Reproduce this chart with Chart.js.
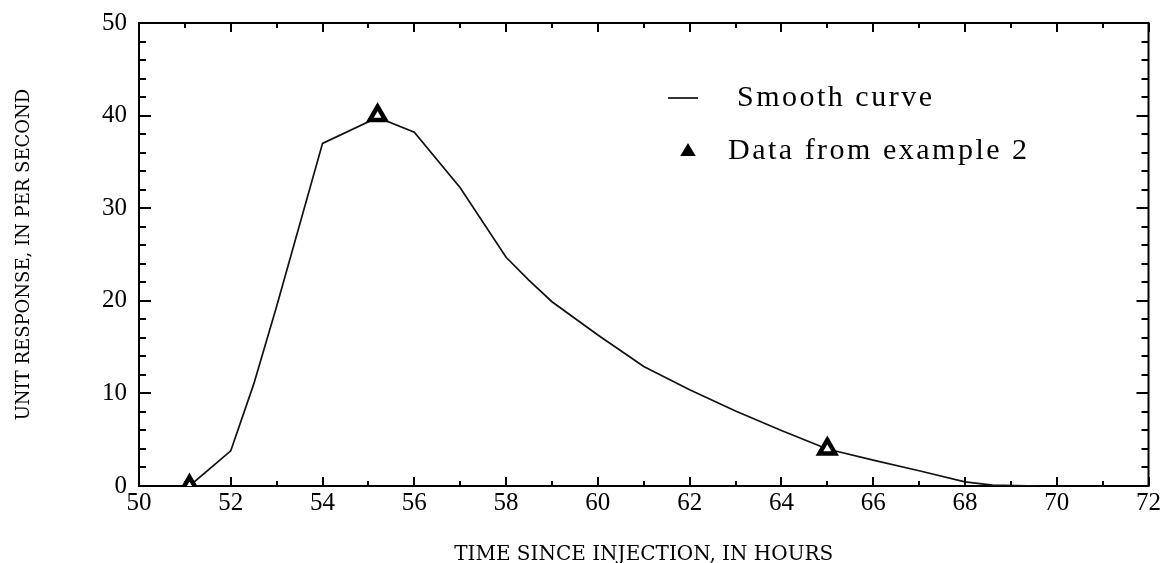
<!DOCTYPE html>
<html>
<head>
<meta charset="utf-8">
<script src="https://cdn.jsdelivr.net/npm/chart.js@4/dist/chart.umd.min.js"></script>
<style>
  html, body { margin: 0; padding: 0; background: #fff; }
  #wrap { width: 1162px; height: 563px; }
</style>
</head>
<body>
<div id="wrap"><canvas id="chart" width="1162" height="563"></canvas></div>
<script>
// ─── DATA ────────────────────────────────────────────────────
const curveHours    = [51.1, 52, 52.5, 53, 54, 55.2, 56, 57, 58, 58.5, 59, 60, 61, 62, 63, 64, 65, 66, 67, 68, 68.6, 69.6];
const curveResponse = [0, 3.8, 11, 19.4, 37, 39.8, 38.2, 32.2, 24.7, 22.2, 19.9, 16.3, 12.9, 10.4, 8.1, 6.0, 4.0, 2.8, 1.65, 0.45, 0.1, 0];

const exampleHours    = [51.1, 55.2, 65];
const exampleResponse = [0, 40, 4];

const xTickValues = [50, 52, 54, 56, 58, 60, 62, 64, 66, 68, 70, 72];
const yTickValues = [0, 10, 20, 30, 40, 50];
const xMinorStep = 1;
const yMinorStep = 2;

const seriesLabels = ['Smooth curve', 'Data from example 2'];

// ─── PLUGINS ─────────────────────────────────────────────────
// box round the plot with inward ticks on all four sides
const framePlugin = {
    id: 'frame',
    beforeDatasetsDraw(chart) {
        const { ctx, chartArea: a, scales: { x, y } } = chart;
        ctx.save();
        ctx.strokeStyle = '#000';
        ctx.lineWidth = 2;
        ctx.strokeRect(a.left, a.top, a.right - a.left, a.bottom - a.top);

        ctx.beginPath();
        for (let v = x.min; v <= x.max + 1e-9; v += xMinorStep) {
            const px = Math.round(x.getPixelForValue(v));
            const len = xTickValues.includes(v) ? 9 : 5;
            ctx.moveTo(px, a.bottom); ctx.lineTo(px, a.bottom - len);
            ctx.moveTo(px, a.top);    ctx.lineTo(px, a.top + len);
        }
        for (let v = y.min; v <= y.max + 1e-9; v += yMinorStep) {
            const py = Math.round(y.getPixelForValue(v));
            const len = yTickValues.includes(v) ? 12 : 7;
            ctx.moveTo(a.left, py);  ctx.lineTo(a.left + len, py);
            ctx.moveTo(a.right, py); ctx.lineTo(a.right - len, py);
        }
        ctx.stroke();
        ctx.restore();
    }
};

// legend sits inside the plot, upper right
const legendPlugin = {
    id: 'innerLegend',
    afterDraw(chart) {
        const { ctx } = chart;
        ctx.save();
        ctx.fillStyle = '#000';
        ctx.strokeStyle = '#000';
        ctx.font = '30px "Liberation Serif"';
        ctx.letterSpacing = '2.5px';
        ctx.textBaseline = 'middle';

        ctx.lineWidth = 1.6;
        ctx.beginPath();
        ctx.moveTo(668, 98); ctx.lineTo(698, 98);
        ctx.stroke();
        ctx.fillText(seriesLabels[0], 737, 98);

        ctx.beginPath();
        ctx.moveTo(688, 145); ctx.lineTo(694, 155); ctx.lineTo(682, 155);
        ctx.closePath();
        ctx.lineWidth = 2;
        ctx.fill(); ctx.stroke();
        ctx.fillText(seriesLabels[1], 728, 151);
        ctx.restore();
    }
};

// ─── CHART ───────────────────────────────────────────────────
const tickFont  = { family: '"Liberation Serif", serif', size: 25 };

new Chart(document.getElementById('chart'), {
    type: 'scatter',
    data: {
        datasets: [
            {
                label: seriesLabels[1],
                data: exampleHours.map((h, i) => ({ x: h, y: exampleResponse[i] })),
                pointStyle: 'triangle',
                radius: 9,
                borderWidth: 4.5,
                borderColor: '#000',
                backgroundColor: '#fff',
                showLine: false
            },
            {
                label: seriesLabels[0],
                data: curveHours.map((h, i) => ({ x: h, y: curveResponse[i] })),
                showLine: true,
                borderColor: '#111',
                borderWidth: 1.7,
                pointRadius: 0,
                tension: 0
            }
        ]
    },
    options: {
        responsive: false,
        animation: false,
        layout: { padding: { left: 0, right: 12, top: 23, bottom: 0 } },
        plugins: { legend: { display: false }, tooltip: { enabled: false } },
        scales: {
            x: {
                type: 'linear',
                min: 50, max: 72,
                afterBuildTicks: s => { s.ticks = xTickValues.map(v => ({ value: v })); },
                afterFit: s => { s.height = 77; s.paddingLeft = 0; s.paddingRight = 0; },
                grid: { display: false, drawTicks: false },
                border: { display: false },
                ticks: { color: '#000', font: tickFont, padding: 2, maxRotation: 0, autoSkip: false },
                title: {
                    display: true,
                    text: 'TIME SINCE INJECTION, IN HOURS',
                    color: '#000',
                    font: { family: '"DejaVu Serif", serif', size: 20, lineHeight: 0.8 },
                    padding: { top: 0, bottom: 0 }
                }
            },
            y: {
                min: 0, max: 50,
                afterBuildTicks: s => { s.ticks = yTickValues.map(v => ({ value: v })); },
                afterFit: s => { s.width = 139; s.paddingTop = 0; s.paddingBottom = 0; },
                grid: { display: false, drawTicks: false },
                border: { display: false },
                ticks: { color: '#000', font: tickFont, padding: 12 },
                title: {
                    display: true,
                    text: 'UNIT RESPONSE, IN PER SECOND',
                    color: '#000',
                    font: { family: '"DejaVu Serif", serif', size: 18 },
                    padding: { top: 14, bottom: 0 }
                }
            }
        }
    },
    plugins: [framePlugin, legendPlugin]
});
</script>
</body>
</html>
